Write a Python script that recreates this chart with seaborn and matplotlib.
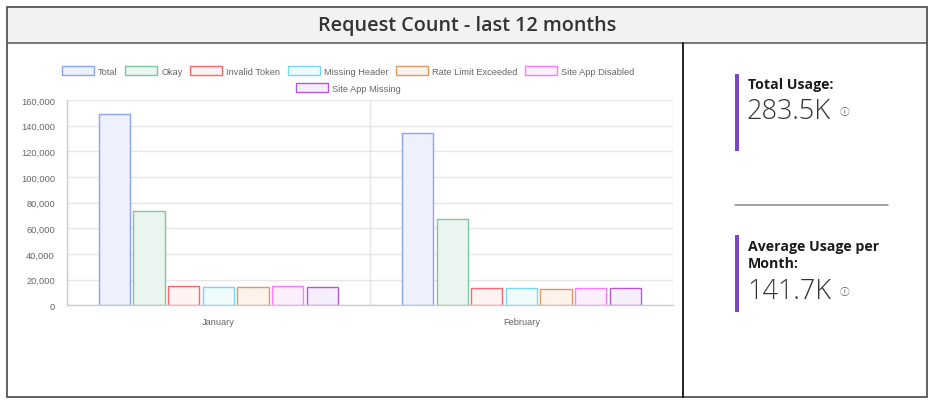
import matplotlib
matplotlib.use("Agg")
import matplotlib.pyplot as plt
import seaborn as sns
import pandas as pd
from matplotlib.patches import Patch, Rectangle
from matplotlib.lines import Line2D
from matplotlib.ticker import FuncFormatter

# ---- data ----
months = ["January", "February"]
series = ["Total", "Okay", "Invalid Token", "Missing Header",
          "Rate Limit Exceeded", "Site App Disabled", "Site App Missing"]
values_jan = [148800, 73700, 14800, 14300, 14500, 14800, 14300]
values_feb = [134500, 67000, 13500, 13500, 13000, 13500, 13500]
y_ticks = [0, 20000, 40000, 60000, 80000, 100000, 120000, 140000, 160000]
title_text = "Request Count - last 12 months"
kpi_labels = ["Total Usage:", "Average Usage per\nMonth:"]
kpi_values = ["283.5K", "141.7K"]

edge_colors = ["#8fa3ec", "#7cc6a2", "#ff6471", "#78d6f8", "#d79a68", "#ff78ff", "#b458d8"]
fill_colors = ["#eef0fc", "#eaf5ef", "#fff4f2", "#f0fbfe", "#fdf3ea", "#fdf0fd", "#f7eefc"]

df = pd.DataFrame({
    "month": [m for m in months for _ in series],
    "series": series * 2,
    "value": values_jan + values_feb,
})

sns.set_theme(style="white")
plt.rcParams["font.family"] = ["Liberation Sans", "DejaVu Sans"]

W, H = 936, 406
fig = plt.figure(figsize=(W / 100, H / 100), dpi=100)

def fx(x):
    return x / W

def fy(y):
    return 1 - y / H

# ---- frame / panel decorations ----
frame = fig.add_axes([0, 0, 1, 1], zorder=-5)
frame.set_xlim(0, W)
frame.set_ylim(H, 0)
frame.axis("off")
frame.add_patch(Rectangle((7, 8), 920, 36, facecolor="#f2f2f2", edgecolor="none"))
frame.add_patch(Rectangle((7, 8), 920, 389.5, facecolor="none", edgecolor="#555555", lw=1.3))
frame.add_line(Line2D([7, 927], [44, 44], color="#555555", lw=1.1))
frame.add_line(Line2D([682.5, 682.5], [44, 397.5], color="#111111", lw=1.3))
frame.text(467, 26.5, title_text, ha="center", va="center", fontsize=14.2,
           family=["Open Sans", "DejaVu Sans"], fontweight="semibold", color="#333333")

# right KPI panel
purple = "#7a47c6"
frame.add_patch(Rectangle((735, 75), 4, 77, facecolor=purple, edgecolor="none"))
frame.add_patch(Rectangle((735, 236), 4, 77, facecolor=purple, edgecolor="none"))
frame.add_line(Line2D([735, 888], [206, 206], color="#8a8a8a", lw=1.1))
frame.text(748, 85, kpi_labels[0], ha="left", va="center", fontsize=10.2,
           family=["Open Sans", "DejaVu Sans"], fontweight="bold", color="#1a1a1a")
frame.text(747, 112, kpi_values[0], ha="left", va="center", fontsize=19.5,
           family=["Open Sans", "DejaVu Sans"], fontweight="light", color="#333333")
frame.text(748, 255.5, kpi_labels[1], ha="left", va="center", fontsize=10.2,
           family=["Open Sans", "DejaVu Sans"], fontweight="bold", color="#1a1a1a",
           linespacing=1.25)
frame.text(747, 292, kpi_values[1], ha="left", va="center", fontsize=19.5,
           family=["Open Sans", "DejaVu Sans"], fontweight="light", color="#333333")
for yy in (112, 292):
    frame.text(845, yy, "\u24d8", ha="center", va="center", fontsize=7,
               family=["Noto Sans CJK SC", "DejaVu Sans"], color="#555555")

# ---- chart ----
ax = fig.add_axes([fx(66.7), fy(306.3), fx(673 - 66.7), (306.3 - 101) / H])
sns.barplot(data=df, x="month", y="value", hue="series", order=months,
            hue_order=series, palette=fill_colors, width=0.8, gap=0.1,
            saturation=1, legend=False, ax=ax, errorbar=None, linewidth=1)
for cont, ec in zip(ax.containers, edge_colors):
    for bar in cont:
        bar.set_edgecolor(ec)
        bar.set_linewidth(1.0)

ax.set_xlim(-0.5, 1.5)
ax.set_ylim(0, 160000)
ax.set_yticks(y_ticks)
ax.yaxis.set_major_formatter(FuncFormatter(lambda v, p: f"{int(v):,}"))
ax.set_xlabel("")
ax.set_ylabel("")
grid_c = "#e6e6e6"
ax.grid(axis="y", color=grid_c, lw=1)
ax.set_xticks([-0.5, 0.5, 1.5], minor=True)
ax.grid(axis="x", which="minor", color=grid_c, lw=1)
ax.tick_params(axis="y", which="major", length=8, width=1, color=grid_c,
               labelsize=6.7, labelcolor="#666666", pad=0.5)
ax.tick_params(axis="x", which="major", length=0, labelsize=6.7,
               labelcolor="#666666", pad=8.5)
ax.tick_params(axis="x", which="minor", length=6, width=1, color=grid_c)
ax.set_axisbelow(True)
for s in ["top", "right"]:
    ax.spines[s].set_visible(False)
ax.spines["left"].set_color("#cccccc")
ax.spines["bottom"].set_color("#cccccc")
ax.spines["left"].set_linewidth(1)
ax.spines["bottom"].set_linewidth(1)

# ---- legend (two rows, centered) ----
handles = [Patch(facecolor=fc, edgecolor=ec, lw=1) for fc, ec in zip(fill_colors, edge_colors)]
leg_kw = dict(frameon=False, fontsize=6.7, handlelength=3.45, handleheight=1.0,
              handletextpad=0.44, columnspacing=0.8, borderaxespad=0, borderpad=0,
              labelcolor="#666666")
leg1 = fig.legend(handles[:6], series[:6], ncol=6, loc="center",
                  bbox_to_anchor=(fx(348), fy(72)), **leg_kw)
leg2 = fig.legend(handles[6:], series[6:], ncol=1, loc="center",
                  bbox_to_anchor=(fx(348), fy(89)), **leg_kw)

fig.savefig("out.png", dpi=100, facecolor="white")
